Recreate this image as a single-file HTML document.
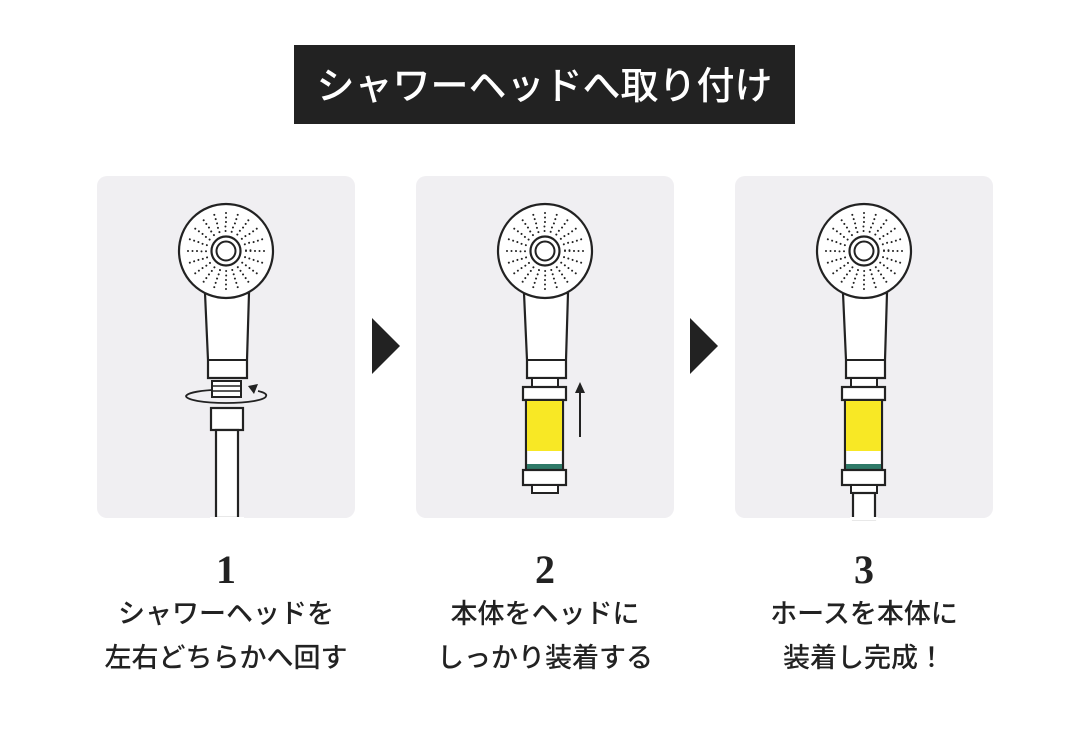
<!DOCTYPE html>
<html><head><meta charset="utf-8"><style>
html,body{margin:0;padding:0;background:#fff;}
body{width:1076px;height:746px;position:relative;overflow:hidden;font-family:"Liberation Sans","Noto Sans CJK JP",sans-serif;}
.t{position:absolute;text-align:center;width:340px;color:#222;}
.num{font-family:"Liberation Serif","Noto Serif CJK SC",serif;font-weight:bold;font-size:40px;}
.cap{font-size:27px;line-height:44px;font-weight:500;}
</style></head><body>
<svg width="1076" height="746" style="position:absolute;left:0;top:0">
<defs>
<g id="head">
  <path d="M-21,293 L-18,360 L-18,378 L21,378 L21,360 L23,293 Z" fill="#fff" stroke="#222" stroke-width="2.2"/>
  <line x1="-18" y1="360" x2="21" y2="360" stroke="#222" stroke-width="2"/>
  <circle cx="0" cy="251" r="47" fill="#fff" stroke="#222" stroke-width="2.2"/>
  <g fill="none" stroke="#222" stroke-width="2" stroke-linecap="round" transform="translate(0,251)">
    <circle r="20" pathLength="20" stroke-dasharray="0.001 0.999"/>
    <circle r="24.5" pathLength="20" stroke-dasharray="0.001 0.999"/>
    <circle r="29" pathLength="20" stroke-dasharray="0.001 0.999"/>
    <circle r="33.5" pathLength="20" stroke-dasharray="0.001 0.999"/>
    <circle r="38" pathLength="20" stroke-dasharray="0.001 0.999"/>
  </g>
  <circle cx="0" cy="251" r="14.5" fill="#fff" stroke="#222" stroke-width="2.2"/>
  <circle cx="0" cy="251" r="9.5" fill="#fff" stroke="#222" stroke-width="2"/>
</g>
<g id="filter">
  <rect x="-13" y="378" width="26" height="9" fill="#fff" stroke="#222" stroke-width="2"/>
  <rect x="-22" y="387" width="43" height="13" fill="#fff" stroke="#222" stroke-width="2.2"/>
  <rect x="-19" y="400" width="37" height="70" fill="#fff" stroke="#222" stroke-width="2.2"/>
  <rect x="-18" y="401" width="35" height="50" fill="#f8e825"/>
  <rect x="-18" y="464" width="35" height="6" fill="#2f7a68"/>
  <rect x="-22" y="470" width="43" height="15" fill="#fff" stroke="#222" stroke-width="2.2"/>
  <rect x="-13" y="485" width="26" height="8" fill="#fff" stroke="#222" stroke-width="2"/>
</g>
</defs>
<rect x="294" y="45" width="501" height="79" fill="#222"/>
<text x="544.5" y="99" text-anchor="middle" fill="#fff" font-size="38" font-weight="500" font-family="Liberation Sans,Noto Sans CJK JP,sans-serif">シャワーヘッドへ取り付け</text>

<rect x="97" y="176" width="258" height="342" rx="10" fill="#f0eff2"/>
<rect x="416" y="176" width="258" height="342" rx="10" fill="#f0eff2"/>
<rect x="735" y="176" width="258" height="342" rx="10" fill="#f0eff2"/>

<polygon points="372,318 400,346 372,374" fill="#222"/>
<polygon points="690,318 718,346 690,374" fill="#222"/>

<use href="#head" transform="translate(226,0)"/>
<rect x="212" y="381" width="29" height="16" fill="#fff" stroke="#222" stroke-width="2"/>
<line x1="212" y1="386" x2="241" y2="386" stroke="#222" stroke-width="1.5"/>
<line x1="212" y1="391" x2="241" y2="391" stroke="#222" stroke-width="1.5"/>
<path d="M212,390 A40,7 0 0 0 186,396 A40,7 0 0 0 226,403 A40,7 0 0 0 266,396 A40,7 0 0 0 258,391" fill="none" stroke="#222" stroke-width="1.8"/>
<polygon points="248,386 258,384 254,394" fill="#222"/>
<rect x="211" y="408" width="32" height="22" fill="#fff" stroke="#222" stroke-width="2.2"/>
<rect x="216" y="430" width="22" height="88" fill="#fff" stroke="#222" stroke-width="2.2"/>
<rect x="210" y="517" width="34" height="3" fill="#fff"/>

<use href="#head" transform="translate(545,0)"/>
<use href="#filter" transform="translate(545,0)"/>
<line x1="580" y1="437" x2="580" y2="392" stroke="#222" stroke-width="2"/>
<polygon points="575,393 580,382 585,393" fill="#222"/>

<use href="#head" transform="translate(864,0)"/>
<use href="#filter" transform="translate(864,0)"/>
<rect x="853" y="493" width="22" height="26" fill="#fff" stroke="#222" stroke-width="2.2"/>
<rect x="850" y="517" width="28" height="3" fill="#fff"/>
</svg>

<div class="t num" style="left:56px;top:546px">1</div>
<div class="t num" style="left:375px;top:546px">2</div>
<div class="t num" style="left:694px;top:546px">3</div>
<div class="t cap" style="left:56px;top:592px">シャワーヘッドを<br>左右どちらかへ回す</div>
<div class="t cap" style="left:375px;top:592px">本体をヘッドに<br>しっかり装着する</div>
<div class="t cap" style="left:694px;top:592px">ホースを本体に<br>装着し完成！</div>
</body></html>
